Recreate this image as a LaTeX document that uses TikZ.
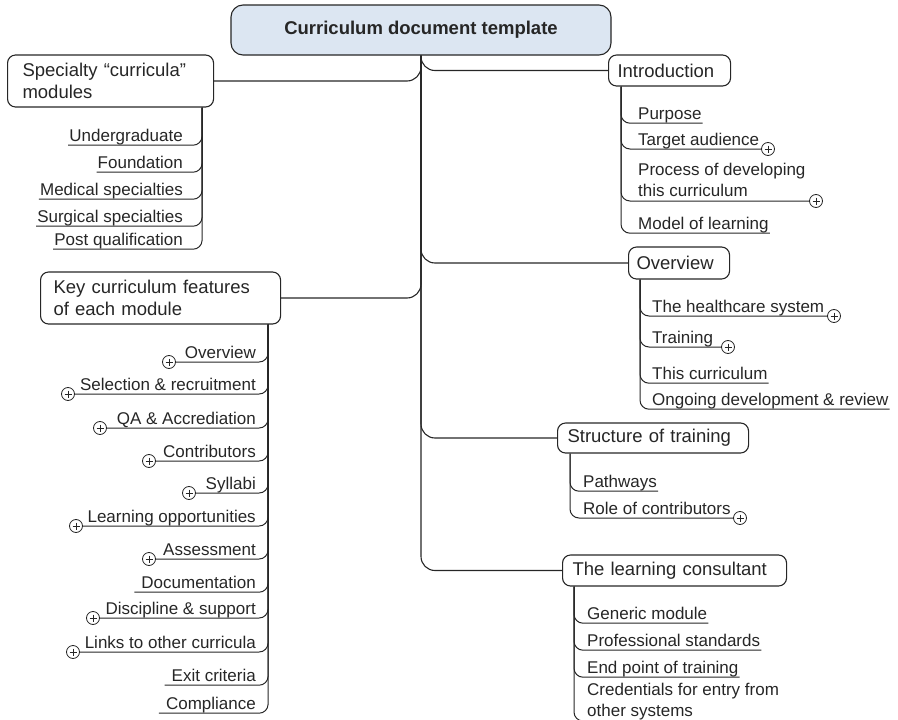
\documentclass[tikz,border=0pt]{standalone}
\usepackage{fontspec}
\setmainfont{Liberation Sans}
\usepackage{tikz}
\usepackage{xcolor}
\definecolor{rootfill}{HTML}{DCE6F2}
\definecolor{ink}{HTML}{262626}

\begin{document}
\begin{tikzpicture}[x = 1pt, y = -1pt]
				    \tikzstyle{branch}=[draw = ink,line width = 1.1pt,rounded corners = 14pt]
				    \tikzstyle{link}=[draw = ink,line width = 1pt,rounded corners = 9pt]
				    \tikzstyle{topic}=[draw = ink,text = ink,line width = 1.1pt,rounded corners = 8pt,align = left,anchor = west,inner xsep = 10pt,inner ysep = 0pt,font = \fontsize{18.5}{21.5}\selectfont]
				    \tikzstyle{itembase}=[inner xsep = 1pt,inner ysep = 0pt,text = ink,font = \fontsize{17}{21.5}\selectfont]
				    \tikzstyle{item}=[itembase,text depth = 4pt]
				    \tikzstyle{expand}=[draw = ink,circle,fill = white,inner sep = 0pt,minimum size = 13pt,line width = .8pt,
				      path picture = {\draw[ink,line width = .8pt] ([xshift = 3pt]path picture bounding box.west) -- ([xshift = -3pt]path picture bounding box.east)
				        ([yshift = -3pt]path picture bounding box.north) -- ([yshift = 3pt]path picture bounding box.south);}]
				    \useasboundingbox (0,0) rectangle (898,720);
				    \node[draw = ink,fill = rootfill,text = ink,line width = 1.1pt,rounded corners = 12pt,minimum width = 380pt,minimum height = 50pt,
				      font = \bfseries\fontsize{18.5}{22}\selectfont] (root) at (421,30) {Curriculum document template};
				    \node[topic,text width = 176pt,inner xsep = 15pt,minimum height = 52pt] (spec) at (7,81) {Specialty “curricula”\\modules};
				    \node[topic,text width = 214pt,inner xsep = 13pt,minimum height = 52pt] (keyfeat) at (40,298) {Key curriculum features\\of each module};
				    \node[topic,text width = 104pt,inner xsep = 9pt,minimum height = 31pt] (intro) at (608,70.5) {Introduction};
				    \node[topic,text width = 85pt,inner xsep = 8pt,minimum height = 32pt] (over) at (628,263) {Overview};
				    \node[topic,text width = 171pt,minimum height = 30pt] (struct) at (557,438) {Structure of training};
				    \node[topic,text width = 204pt,minimum height = 31pt] (learn) at (562,570.5) {The learning consultant};
				    \draw[branch] (root.south) |- (spec.east);
				    \draw[branch] (root.south) |- (keyfeat.east);
				    \draw[branch] (root.south) |- (intro.west);
				    \draw[branch] (root.south) |- (over.west);
				    \draw[branch] (root.south) |- (struct.west);
				    \draw[branch] (root.south) |- (learn.west);
				    \node[item,anchor = base east] (spec1) at (184,141) {Undergraduate};
				    \node[item,anchor = base east] (spec2) at (184,168) {Foundation};
				    \node[item,anchor = base east] (spec3) at (184,195) {Medical specialties};
				    \node[item,anchor = base east] (spec4) at (184,222) {Surgical specialties};
				    \node[item,anchor = base east] (spec5) at (184,245) {Post qualification};
				    \draw[link] ([xshift = -12pt]spec.south east) |- (spec1.south west);
				    \draw[link] ([xshift = -12pt]spec.south east) |- (spec2.south west);
				    \draw[link] ([xshift = -12pt]spec.south east) |- (spec3.south west);
				    \draw[link] ([xshift = -12pt]spec.south east) |- (spec4.south west);
				    \draw[link] ([xshift = -12pt]spec.south east) |- (spec5.south west);
				    \node[item,anchor = base east] (kf1) at (257,358) {Overview};
				    \node[item,anchor = base east] (kf2) at (257,390) {Selection \& recruitment};
				    \node[item,anchor = base east] (kf3) at (257,424) {QA \& Accrediation};
				    \node[item,anchor = base east] (kf4) at (257,457) {Contributors};
				    \node[item,anchor = base east] (kf5) at (257,489) {Syllabi};
				    \node[item,anchor = base east] (kf6) at (257,522) {Learning opportunities};
				    \node[item,anchor = base east] (kf7) at (257,555) {Assessment};
				    \node[item,anchor = base east] (kf8) at (257,588) {Documentation};
				    \node[item,anchor = base east] (kf9) at (257,614) {Discipline \& support};
				    \node[item,anchor = base east] (kf10) at (257,648) {Links to other curricula};
				    \node[item,anchor = base east] (kf11) at (257,681) {Exit criteria};
				    \node[item,anchor = base east] (kf12) at (257,709) {Compliance};
				    \node[expand] (kf1x) at (169,362) {};
				    \node[expand] (kf2x) at (68,394) {};
				    \node[expand] (kf3x) at (100,428) {};
				    \node[expand] (kf4x) at (149,461) {};
				    \node[expand] (kf5x) at (189,493) {};
				    \node[expand] (kf6x) at (76,526) {};
				    \node[expand] (kf7x) at (149,559) {};
				    \node[expand] (kf9x) at (93,618) {};
				    \node[expand] (kf10x) at (73,652) {};
				    \draw[link] ([xshift = -13pt]keyfeat.south east) |- (kf1x.east);
				    \draw[link] ([xshift = -13pt]keyfeat.south east) |- (kf2x.east);
				    \draw[link] ([xshift = -13pt]keyfeat.south east) |- (kf3x.east);
				    \draw[link] ([xshift = -13pt]keyfeat.south east) |- (kf4x.east);
				    \draw[link] ([xshift = -13pt]keyfeat.south east) |- (kf5x.east);
				    \draw[link] ([xshift = -13pt]keyfeat.south east) |- (kf6x.east);
				    \draw[link] ([xshift = -13pt]keyfeat.south east) |- (kf7x.east);
				    \draw[link] ([xshift = -13pt]keyfeat.south east) |- ([xshift = -6pt]kf8.south west);
				    \draw[link] ([xshift = -13pt]keyfeat.south east) |- (kf9x.east);
				    \draw[link] ([xshift = -13pt]keyfeat.south east) |- (kf10x.east);
				    \draw[link] ([xshift = -13pt]keyfeat.south east) |- ([xshift = -6pt]kf11.south west);
				    \draw[link] ([xshift = -13pt]keyfeat.south east) |- ([xshift = -6pt]kf12.south west);
				    \node[item,anchor = base west] (in1) at (637,119) {Purpose};
				    \node[item,anchor = base west] (in2) at (637,145) {Target audience};
				    \node[itembase,align = left,anchor = south west] (in3) at (637,201) {Process of developing\\this curriculum\rule[-4pt]{0pt}{4pt}};
				    \node[item,anchor = base west] (in4) at (637,229) {Model of learning};
				    \node[expand] (in2x) at (768,149) {};
				    \node[expand] (in3x) at (816,201) {};
				    \draw[link] ([xshift = 13pt]intro.south west) |- (in1.south east);
				    \draw[link] ([xshift = 13pt]intro.south west) |- (in2x.west);
				    \draw[link] ([xshift = 13pt]intro.south west) |- (in3x.west);
				    \draw[link] ([xshift = 13pt]intro.south west) |- (in4.south east);
				    \node[item,anchor = base west] (ov1) at (651,312) {The healthcare system};
				    \node[item,anchor = base west] (ov2) at (651,343) {Training};
				    \node[item,anchor = base west] (ov3) at (651,379) {This curriculum\ };
				    \node[item,anchor = base west] (ov4) at (651,405) {Ongoing development \& review};
				    \node[expand] (ov1x) at (834,316) {};
				    \node[expand] (ov2x) at (728,347) {};
				    \draw[link] ([xshift = 12pt]over.south west) |- (ov1x.west);
				    \draw[link] ([xshift = 12pt]over.south west) |- (ov2x.west);
				    \draw[link] ([xshift = 12pt]over.south west) |- (ov3.south east);
				    \draw[link] ([xshift = 12pt]over.south west) |- (ov4.south east);
				    \node[item,anchor = base west] (st1) at (582,487) {Pathways\ };
				    \node[item,anchor = base west] (st2) at (582,514) {Role of contributors};
				    \node[expand] (st2x) at (740,518) {};
				    \draw[link] ([xshift = 13pt]struct.south west) |- (st1.south east);
				    \draw[link] ([xshift = 13pt]struct.south west) |- (st2x.west);
				    \node[item,anchor = base west] (ln1) at (586,619) {Generic module};
				    \node[item,anchor = base west] (ln2) at (586,646) {Professional standards};
				    \node[item,anchor = base west] (ln3) at (586,673) {End point of training};
				    \node[itembase,align = left,anchor = south west] (ln4) at (586,721) {Credentials for entry from\\other systems\rule[-4pt]{0pt}{4pt}};
				    \draw[link] ([xshift = 12pt]learn.south west) |- (ln1.south east);
				    \draw[link] ([xshift = 12pt]learn.south west) |- (ln2.south east);
				    \draw[link] ([xshift = 12pt]learn.south west) |- (ln3.south east);
				    \draw[link] ([xshift = 12pt]learn.south west) |- (ln4.south east);
\end{tikzpicture}
\end{document}
